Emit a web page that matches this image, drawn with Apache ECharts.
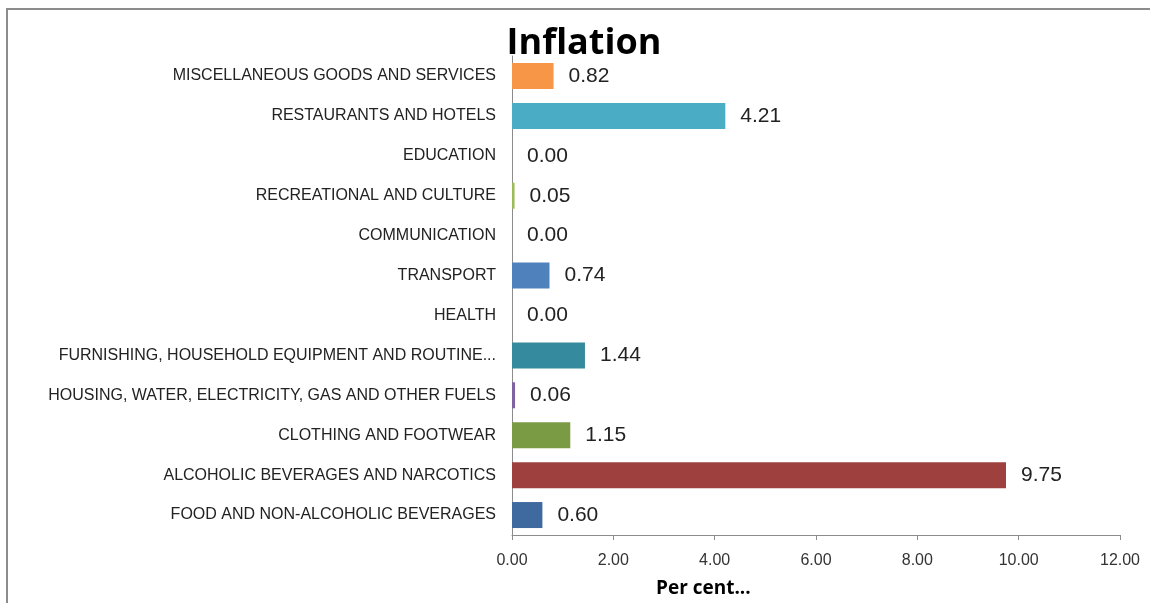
<!DOCTYPE html>
<html>
<head>
<meta charset="utf-8">
<script src="https://cdn.jsdelivr.net/npm/echarts@6/dist/echarts.min.js"></script>
<style>
  html, body { margin: 0; padding: 0; background: #fff; }
  #chart { width: 1150px; height: 603px; }
</style>
</head>
<body>
<div id="chart"></div>
<script>
// bottom to top, as in the picture
const categories = [
  'FOOD AND NON-ALCOHOLIC BEVERAGES',
  'ALCOHOLIC BEVERAGES AND NARCOTICS',
  'CLOTHING AND FOOTWEAR',
  'HOUSING, WATER, ELECTRICITY, GAS AND OTHER FUELS',
  'FURNISHING, HOUSEHOLD EQUIPMENT AND ROUTINE MAINTENANCE',
  'HEALTH',
  'TRANSPORT',
  'COMMUNICATION',
  'RECREATIONAL AND CULTURE',
  'EDUCATION',
  'RESTAURANTS AND HOTELS',
  'MISCELLANEOUS GOODS AND SERVICES'
];
const inflation = [0.60, 9.75, 1.15, 0.06, 1.44, 0.00, 0.74, 0.00, 0.05, 0.00, 4.21, 0.82];
const barColors = [
  '#3f6a9f', '#9e413e', '#7b9a44', '#7f63a1', '#368a9e', '#4f81bd',
  '#4f81bd', '#4f81bd', '#9bbb59', '#4bacc6', '#4bacc6', '#f79646'
];
const xTicks = [0, 2, 4, 6, 8, 10, 12];

const chart = echarts.init(document.getElementById('chart'));

chart.setOption({
  animation: false,
  textStyle: { fontFamily: 'Liberation Sans' },
  title: {
    text: 'Inflation',
    left: 579,
    top: 21,
    textAlign: 'center',
    textStyle: { fontSize: 36, fontWeight: 'bold', color: '#000', fontFamily: 'Open Sans' }
  },
  grid: { left: 512, right: 30, top: 56, bottom: 68 },
  xAxis: {
    type: 'value',
    min: xTicks[0],
    max: xTicks[xTicks.length - 1],
    interval: 2,
    splitLine: { show: false },
    axisLine: { show: true, lineStyle: { color: '#8c8c8c', width: 1 } },
    axisTick: { show: true, length: 5, lineStyle: { color: '#8c8c8c' } },
    axisLabel: {
      color: '#333',
      fontSize: 16,
      margin: 18,
      formatter: v => v.toFixed(2)
    }
  },
  yAxis: {
    type: 'category',
    data: categories,
    axisLine: { show: true, lineStyle: { color: '#8c8c8c', width: 1 } },
    axisTick: { show: false },
    axisLabel: {
      color: '#222',
      fontSize: 16,
      margin: 16,
      // Excel cut the longest name short
      formatter: v => v.length > 48 ? v.slice(0, 43) + '...' : v
    }
  },
  series: [{
    type: 'bar',
    barWidth: 26,
    data: inflation.map((v, i) => ({ value: v, itemStyle: { color: barColors[i] } })),
    label: {
      show: true,
      position: 'right',
      distance: 15,
      color: '#222',
      fontSize: 21,
      formatter: p => p.value.toFixed(2)
    }
  }],
  graphic: [
    {
      type: 'rect',
      shape: { x: 7, y: 9, width: 1200, height: 700 },
      style: { fill: 'none', stroke: '#8c8c8c', lineWidth: 2 },
      silent: true
    },
    {
      type: 'text',
      left: 656,
      top: 579,
      style: { text: 'Per cent...', fontSize: 19, fontWeight: 'bold', fill: '#000', fontFamily: 'Open Sans' }
    }
  ]
});
</script>
</body>
</html>
